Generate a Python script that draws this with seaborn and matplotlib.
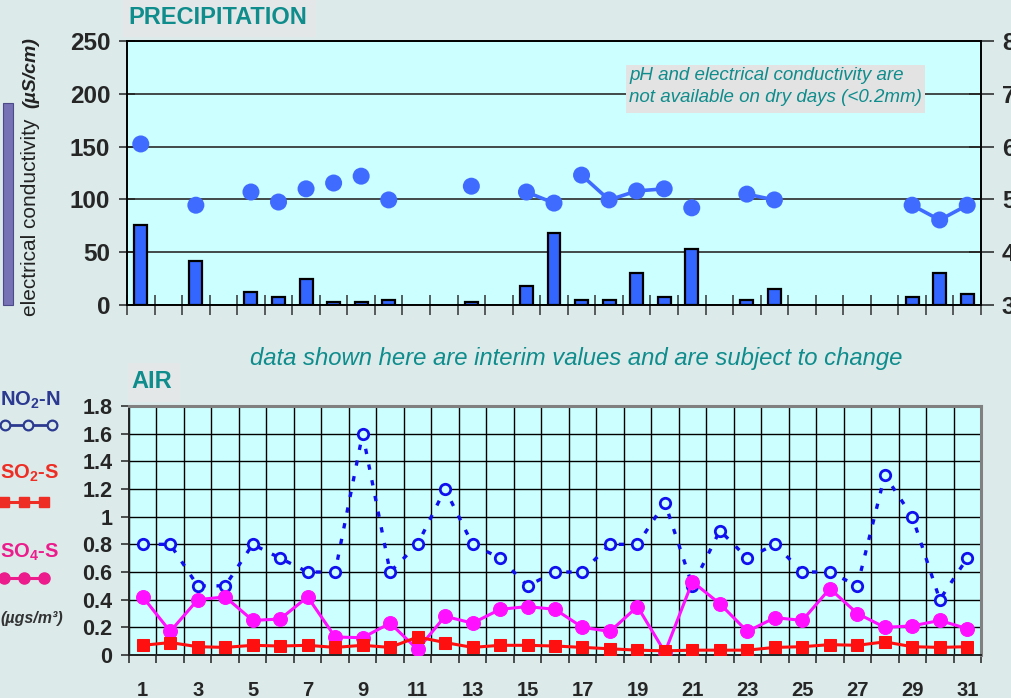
import numpy as np
import pandas as pd
import matplotlib
matplotlib.use("Agg")
import matplotlib.pyplot as plt
import seaborn as sns
from matplotlib.lines import Line2D
from matplotlib.patches import Rectangle

# ---------------- data ----------------
days = list(range(1, 32))
precip = [76, None, 42, None, 12, 7.5, 25, 2.5, 2.5, 4.5,
          None, None, 2.5, None, 18, 68, 4.5, 4.5, 30, 7.5,
          53, None, 4.5, 15, None, None, None, None, 7.5, 30,
          10]
ph = [6.05, None, 4.89, None, 5.14, 4.95, 5.2, 5.31, 5.44, 4.99,
      None, None, 5.25, None, 5.14, 4.93, 5.46, 4.99, 5.16, 5.2,
      4.84, None, 5.1, 4.99, None, None, None, None, 4.89, 4.61,
      4.89]
ph_linked = [(15, 16), (17, 20), (23, 24), (29, 31)]
no2 = [0.8, 0.8, 0.5, 0.5, 0.8, 0.7, 0.6, 0.6, 1.6, 0.6,
       0.8, 1.2, 0.8, 0.7, 0.5, 0.6, 0.6, 0.8, 0.8, 1.1,
       0.5, 0.9, 0.7, 0.8, 0.6, 0.6, 0.5, 1.3, 1.0, 0.4,
       0.7]
so2 = [0.07, 0.09, 0.06, 0.055, 0.07, 0.065, 0.07, 0.055, 0.07, 0.055,
       0.13, 0.09, 0.055, 0.07, 0.07, 0.065, 0.055, 0.045, 0.035, 0.03,
       0.035, 0.035, 0.035, 0.055, 0.06, 0.075, 0.07, 0.095, 0.06, 0.055,
       0.06]
so4 = [0.42, 0.17, 0.40, 0.42, 0.25, 0.26, 0.42, 0.13, 0.125, 0.23,
       0.04, 0.28, 0.23, 0.33, 0.35, 0.33, 0.20, 0.17, 0.35, 0.02,
       0.53, 0.37, 0.17, 0.27, 0.25, 0.48, 0.30, 0.20, 0.21, 0.25,
       0.19]
ec_ticks = [0, 50, 100, 150, 200, 250]
ph_ticks = [3, 4, 5, 6, 7, 8]
air_ticks = [0, 0.2, 0.4, 0.6, 0.8, 1.0, 1.2, 1.4, 1.6, 1.8]
air_xlabels = list(range(1, 32, 2))

# ---------------- style ----------------
sns.set_theme(style="white")
plt.rcParams["font.family"] = ["Liberation Sans", "DejaVu Sans"]
plt.rcParams["font.weight"] = "bold"
plt.rcParams["mathtext.fontset"] = "custom"
plt.rcParams["mathtext.rm"] = "Liberation Sans:bold"
plt.rcParams["mathtext.bf"] = "Liberation Sans:bold"
plt.rcParams["mathtext.it"] = "Liberation Sans:bold"

W, H = 1011, 698
FIG_BG = "#DCEAEA"
AX_BG = "#CCFFFF"
TEAL = "#0F8C8C"
BOXGRAY = "#E4E7E7"

fig = plt.figure(figsize=(W / 100, H / 100), dpi=100, facecolor=FIG_BG)


def fx(px):
    return px / W


def fy(py):
    return 1 - py / H


# ---------------- upper: precipitation ----------------
ax1 = fig.add_axes([fx(127), fy(305), fx(981 - 127), (305 - 41) / H])
ax1.set_facecolor(AX_BG)
df_p = pd.DataFrame({"day": days, "precip": precip}).dropna()
sns.barplot(data=df_p, x="day", y="precip", native_scale=True, width=0.47,
            color="#3366FF", saturation=1, edgecolor="black", linewidth=1.6,
            ax=ax1)
ax1.set_xlim(0.5, 31.5)
ax1.set_ylim(0, 250)
ax1.set_yticks(ec_ticks)
ax1.set_xticks(np.arange(0.5, 32, 1))
ax1.set_xticklabels([])
ax1.set_xlabel("")
ax1.set_ylabel("")
ax1.set_axisbelow(True)
ax1.yaxis.grid(True, color="#2a2a2a", lw=1.2)
ax1.xaxis.grid(False)
ax1.tick_params(axis="x", direction="inout", length=15, width=1.1, color="#333333", bottom=True)
ax1.tick_params(axis="y", direction="inout", length=12, width=1.1, color="#222222",
                labelsize=17.5, pad=6, left=True)
for s in ax1.spines.values():
    s.set_color("black")
    s.set_linewidth(1.2)

ax2 = ax1.twinx()
df_ph = pd.DataFrame({"day": days, "ph": ph}).dropna()
seg = []
for d in df_ph["day"]:
    sid = np.nan
    for i, (a, b) in enumerate(ph_linked):
        if a <= d <= b:
            sid = i
    seg.append(sid)
df_ph["seg"] = seg
df_l = df_ph.dropna()
sns.lineplot(data=df_l, x="day", y="ph", units="seg", estimator=None,
             color="#3F6BFF", linewidth=2.6, ax=ax2, legend=False)
sns.scatterplot(data=df_ph, x="day", y="ph", s=150, color="#3F6BFF",
                edgecolor="none", ax=ax2, legend=False, zorder=5)
ax2.set_ylim(3, 8)
ax2.set_yticks(ph_ticks)
ax2.set_xlim(0.5, 31.5)
ax2.set_ylabel("")
ax2.set_xlabel("")
ax2.tick_params(axis="y", direction="inout", length=18, width=1.1, color="#222222",
                labelsize=17.5, pad=6, right=True)
for s in ax2.spines.values():
    s.set_color("black")
    s.set_linewidth(1.2)

# upper titles / labels
fig.patches.append(Rectangle((fx(123), fy(37)), fx(316 - 123), 37 / H,
                             transform=fig.transFigure, fc=BOXGRAY, ec="none"))
fig.text(fx(218), fy(18), "PRECIPITATION", color=TEAL, fontsize=17,
         ha="center", va="center")
fig.patches.append(Rectangle((fx(626), fy(113)), fx(925 - 626), 48 / H,
                             transform=fig.transFigure, fc="#E3E3E3", ec="none",
                             zorder=2))
fig.text(fx(629), fy(76), "pH and electrical conductivity are", color=TEAL,
         fontsize=13.5, style="italic", weight="normal", ha="left", va="center", zorder=3)
fig.text(fx(629), fy(98), "not available on dry days (<0.2mm)", color=TEAL,
         fontsize=13.5, style="italic", weight="normal", ha="left", va="center", zorder=3)
fig.patches.append(Rectangle((fx(3), fy(305)), fx(10), 202 / H,
                             transform=fig.transFigure, fc="#7771B5", ec="#4D4A8A", lw=0.8))
fig.text(fx(31), fy(316), "electrical conductivity", rotation=90, fontsize=15,
         weight="normal", color="#222222", ha="center", va="bottom")
fig.text(fx(31), fy(108), "(µS/cm)", rotation=90, fontsize=14, style="italic",
         weight="bold", color="#222222", ha="center", va="bottom")

# ---------------- lower: air ----------------
ax3 = fig.add_axes([fx(129), fy(655), fx(981 - 129), (655 - 406) / H])
ax3.set_facecolor(AX_BG)
df_air = pd.DataFrame({"day": days, "no2": no2, "so2": so2, "so4": so4})
sns.lineplot(data=df_air, x="day", y="no2", color="#1010EE", linewidth=2.4,
             linestyle=(0, (1.6, 3.2)), marker="o", markersize=7.5,
             markerfacecolor=AX_BG, markeredgecolor="#1010EE", markeredgewidth=2,
             ax=ax3, zorder=3)
sns.lineplot(data=df_air, x="day", y="so4", color="#FF10FF", linewidth=2.2,
             marker="o", markersize=10, markeredgecolor="#FF10FF",
             markerfacecolor="#FF10FF", ax=ax3, zorder=4)
sns.lineplot(data=df_air, x="day", y="so2", color="#FF1010", linewidth=2.2,
             marker="s", markersize=8.5, markeredgecolor="#FF1010",
             markerfacecolor="#FF1010", ax=ax3, zorder=5)
ax3.set_xlim(0.5, 31.5)
ax3.set_ylim(0, 1.8)
ax3.set_yticks(air_ticks)
ax3.set_yticklabels([f"{v:g}" for v in air_ticks])
ax3.set_xticks(air_xlabels)
ax3.set_xticklabels([str(d) for d in air_xlabels])
ax3.set_xticks(np.arange(0.5, 32, 1), minor=True)
ax3.set_xlabel("")
ax3.set_ylabel("")
ax3.set_axisbelow(True)
ax3.yaxis.grid(True, which="major", color="black", lw=1.0)
ax3.xaxis.grid(True, which="minor", color="black", lw=1.0)
ax3.xaxis.grid(False, which="major")
ax3.tick_params(axis="x", which="major", length=0, labelsize=14.5, pad=19)
ax3.tick_params(axis="x", which="minor", direction="out", length=6, width=1.1,
                color="#222222", bottom=True)
ax3.tick_params(axis="y", direction="out", length=6, width=1.1, color="#222222",
                labelsize=15.5, pad=6, left=True)
ax3.spines["left"].set_color("#222222")
ax3.spines["bottom"].set_color("#222222")
ax3.spines["left"].set_linewidth(1.4)
ax3.spines["bottom"].set_linewidth(1.4)
ax3.spines["top"].set_color("#808080")
ax3.spines["right"].set_color("#808080")
ax3.spines["top"].set_linewidth(2.2)
ax3.spines["right"].set_linewidth(2.2)

fig.patches.append(Rectangle((fx(128), fy(402)), fx(52), 39 / H,
                             transform=fig.transFigure, fc=BOXGRAY, ec="none"))
fig.text(fx(152), fy(382), "AIR", color=TEAL, fontsize=17, ha="center", va="center")
fig.text(fx(576), fy(359), "data shown here are interim values and are subject to change",
         color=TEAL, fontsize=17.2, style="italic", weight="normal",
         ha="center", va="center")

# left legend
fig.text(fx(0), fy(400), r"NO$_{2}$-N", color="#2B3990", fontsize=14.5,
         ha="left", va="center")
fig.add_artist(Line2D([fx(5), fx(28), fx(52)], [fy(425)] * 3, transform=fig.transFigure,
                      color="#2B3990", lw=2, marker="o", markersize=7,
                      markerfacecolor=FIG_BG, markeredgecolor="#2B3990", markeredgewidth=1.6))
fig.text(fx(0), fy(473), r"SO$_{2}$-S", color="#EE2D24", fontsize=14.5,
         ha="left", va="center")
fig.add_artist(Line2D([fx(4), fx(24), fx(44)], [fy(502)] * 3, transform=fig.transFigure,
                      color="#EE2D24", lw=2.2, marker="s", markersize=7.5,
                      markerfacecolor="#EE2D24", markeredgecolor="#EE2D24"))
fig.text(fx(0), fy(552), r"SO$_{4}$-S", color="#EC1C8C", fontsize=14.5,
         ha="left", va="center")
fig.add_artist(Line2D([fx(4), fx(24), fx(44)], [fy(578)] * 3, transform=fig.transFigure,
                      color="#EC1C8C", lw=2.2, marker="o", markersize=8,
                      markerfacecolor="#EC1C8C", markeredgecolor="#EC1C8C"))
fig.text(fx(0), fy(618), "(µgs/m³)", color="#333333", fontsize=11.5,
         style="italic", ha="left", va="center")

fig.savefig("out.png", dpi=100, facecolor=FIG_BG)
